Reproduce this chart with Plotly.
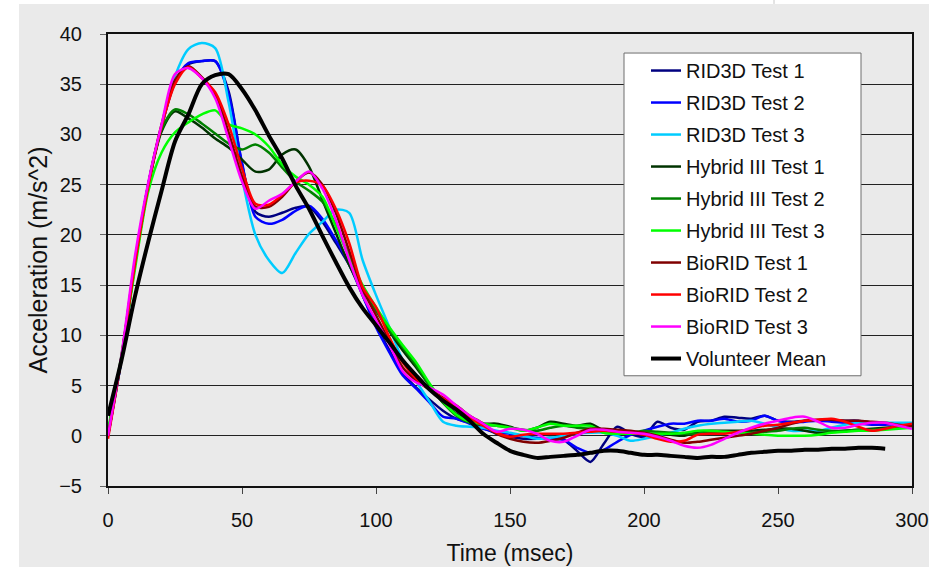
import plotly.graph_objects as go

t = list(range(0, 301, 5))

rid3d_1 = [0.0, 7.6, 17.0, 25.0, 30.8, 35.2, 37.0, 37.3, 37.3, 34.3, 27.0, 22.3, 21.8, 22.2, 22.7, 22.8, 21.3, 19.2, 17.0, 14.0,
           11.0, 8.5, 6.2, 4.8, 3.6, 2.5, 1.7, 1.3, 0.8, 0.2,
           -0.1, -0.3, -0.3, -0.2, -0.4, -1.5, -2.6, -0.8, 0.9, 0.2, -0.1, 1.4, 0.8, 0.6, 1.4, 1.5, 1.9, 1.8, 1.7, 2.0,
           1.5, 1.4, 1.5, 1.5, 1.5, 1.5, 1.5, 1.3, 1.2, 1.1, 1.0]
rid3d_2 = [0.0, 7.6, 17.0, 25.0, 30.8, 35.2, 37.1, 37.3, 37.3, 34.0, 27.2, 21.8, 21.1, 21.5, 22.4, 22.9, 21.6, 19.5, 17.2, 14.0,
           10.8, 8.3, 6.0, 4.7, 3.3, 1.9, 1.7, 1.2, 0.7, 0.4,
           0.2, 0.0, -0.2, -0.3, -0.4, -1.2, -1.7, -1.4, -0.6, 0.1, 0.5, 0.9, 1.2, 1.2, 1.5, 1.5, 1.7, 1.4, 1.5, 2.0,
           1.5, 1.3, 1.4, 1.5, 1.4, 1.3, 1.2, 1.1, 1.1, 1.2, 1.2]
rid3d_3 = [0.2, 7.6, 17.0, 25.0, 30.8, 35.8, 38.5, 39.1, 38.6, 33.2, 25.7, 20.0, 17.5, 16.2, 18.2, 20.1, 21.3, 22.5, 22.2, 17.5,
           14.0, 10.8, 7.5, 5.4, 3.4, 1.4, 1.0, 0.9, 0.8, 0.5,
           0.3, 0.0, -0.3, -0.2, 0.0, 0.2, 0.3, 0.3, 0.0, -0.5, -0.3, 0.0, 0.3, 0.7, 1.0, 1.2, 1.3, 1.4, 1.5, 1.2,
           0.8, 0.5, 0.5, 0.5, 0.8, 1.1, 1.3, 1.3, 1.3, 1.3, 1.3]
hybrid_1 = [0.3, 7.8, 17.0, 24.8, 30.3, 32.3, 31.6, 30.7, 29.6, 28.7, 27.5, 26.3, 26.5, 28.0, 28.5, 26.8, 23.5, 20.2, 17.0, 14.5,
            12.5, 10.4, 8.5, 6.8, 5.0, 3.3, 2.2, 1.5, 1.2, 1.2,
            0.9, 0.5, 0.8, 1.4, 1.2, 1.0, 1.2, 0.5, 0.2, 0.2, 0.2, 0.2, 0.1, 0.0, 0.4, 0.5, 0.5, 0.5, 0.5, 0.6,
            0.7, 0.7, 0.5, 0.3, 0.4, 0.5, 0.6, 0.7, 0.8, 0.9, 1.0]
hybrid_2 = [0.2, 7.8, 17.0, 24.8, 30.5, 32.5, 32.0, 31.1, 30.1, 29.1, 28.5, 29.0, 28.2, 26.7, 25.3, 24.4, 23.3, 21.0, 17.8, 14.8,
            12.5, 10.5, 8.8, 7.0, 5.0, 3.3, 2.0, 1.3, 1.1, 1.0,
            0.8, 0.6, 0.5, 0.8, 1.0, 0.8, 0.7, 0.5, 0.3, 0.3, 0.5, 0.4, 0.3, 0.2, 0.2, 0.3, 0.3, 0.3, 0.3, 0.4,
            0.5, 0.7, 0.8, 0.6, 0.5, 0.5, 0.6, 0.6, 0.7, 0.8, 0.8]
hybrid_3 = [0.5, 8.0, 16.5, 24.3, 28.2, 30.2, 31.2, 32.0, 32.4, 31.0, 30.6, 30.0, 28.8, 27.0, 25.8, 25.0, 23.8, 20.8, 17.8, 15.0,
            12.8, 10.8, 9.0, 7.3, 5.2, 3.4, 2.1, 1.4, 1.2, 1.0,
            0.8, 0.5, 0.8, 1.2, 1.0, 1.0, 1.0, 0.3, 0.2, 0.2, 0.2, 0.2, 0.2, 0.3, 0.5, 0.5, 0.4, 0.3, 0.2, 0.1,
            0.0, 0.0, 0.0, 0.1, 0.3, 0.4, 0.5, 0.5, 0.6, 0.7, 0.8]
biorid_1 = [0.0, 7.8, 17.3, 25.0, 31.0, 35.4, 36.8, 35.7, 34.0, 30.2, 25.8, 22.8, 22.8, 23.8, 25.3, 26.2, 25.0, 22.2, 18.4, 14.6,
            12.0, 9.4, 6.8, 5.5, 4.6, 3.8, 3.0, 2.0, 1.2, 0.2,
            -0.3, -0.6, -0.7, -0.5, -0.2, 0.3, 0.7, 0.7, 0.6, 0.5, 0.3, 0.0, -0.4, -0.7, -0.6, -0.4, -0.2, 0.0, 0.2, 0.5,
            0.8, 1.2, 1.5, 1.6, 1.6, 1.5, 1.5, 1.4, 1.3, 1.1, 1.0]
biorid_2 = [-0.3, 7.7, 17.0, 24.8, 30.8, 35.0, 36.7, 35.6, 34.2, 31.0, 26.6, 23.1, 23.0, 24.0, 25.2, 25.4, 24.9, 22.6, 19.2, 14.8,
            12.8, 9.8, 7.3, 5.7, 4.6, 3.7, 2.8, 1.8, 1.0, 0.3,
            -0.1, 0.1, 0.2, 0.2, 0.2, 0.3, 0.4, 0.5, 0.4, 0.3, 0.1, -0.3, -0.6, -0.5, 0.1, 0.2, 0.2, 0.4, 0.7, 1.0,
            1.1, 1.3, 1.5, 1.6, 1.7, 1.4, 0.9, 0.5, 0.7, 1.0, 1.2]
biorid_3 = [0.0, 8.0, 17.8, 25.2, 31.0, 36.0, 36.6, 35.6, 33.6, 29.5, 25.3, 22.6, 23.4, 24.1, 25.3, 26.3, 24.6, 21.5, 17.5, 14.0,
            11.5, 9.1, 6.4, 5.3, 4.8, 4.1, 3.0, 2.0, 1.2, 0.4,
            0.7, 0.6, 0.2, -0.5, -0.6, 0.0, 0.6, 0.6, 0.4, 0.3, 0.2, -0.1, -0.5, -1.0, -1.2, -0.9, -0.3, 0.3, 0.8, 1.2,
            1.5, 1.8, 1.9, 1.4, 0.8, 0.8, 1.1, 1.3, 1.3, 1.0, 0.7]
volunteer_mean = [2.0, 7.5, 13.8, 19.3, 24.4, 29.3, 32.0, 35.0, 35.9, 36.0, 34.5, 32.4, 29.9, 27.6, 24.9, 22.6, 19.9, 17.3, 14.8, 12.7,
                  11.0, 9.3, 7.5, 6.0, 4.6, 3.5, 2.6, 1.5, 0.2, -0.7,
                  -1.5, -1.9, -2.2, -2.1, -2.0, -1.9, -1.7, -1.5, -1.5, -1.7, -1.9, -1.9, -2.0, -2.1, -2.2, -2.1, -2.1, -1.9, -1.7, -1.6,
                  -1.5, -1.5, -1.4, -1.4, -1.3, -1.3, -1.2, -1.2, -1.3, None, None]

names = ["RID3D Test 1", "RID3D Test 2", "RID3D Test 3", "Hybrid III Test 1", "Hybrid III Test 2",
         "Hybrid III Test 3", "BioRID Test 1", "BioRID Test 2", "BioRID Test 3", "Volunteer Mean"]
series = [rid3d_1, rid3d_2, rid3d_3, hybrid_1, hybrid_2, hybrid_3, biorid_1, biorid_2, biorid_3, volunteer_mean]
colors = ["#000080", "#0000FF", "#00CCFF", "#003300", "#008000", "#00FF00", "#800000", "#FF0000", "#FF00FF", "#000000"]
widths = [2.5] * 9 + [4]

y_ticks = list(range(-5, 41, 5))
x_ticks = list(range(0, 301, 50))

fig = go.Figure()
for i, (n, s, c, w) in enumerate(zip(names, series, colors, widths)):
    fig.add_trace(go.Scatter(x=t, y=s, name=n, mode="lines", legendgroup=str(i),
                             line=dict(color=c, width=w, shape="spline", smoothing=0.8)))

# target pixel geometry, compensated for the small capture scale
S = 1.0 / 0.987
W, H = round(929 * S), round(567 * S)
L, T = 107 * S, 34 * S
R = W - 911 * S
B = H - 485 * S
pw, ph = W - L - R, H - T - B

def px2x(p):
    return (p * S - L) / pw

def py2y(p):
    return (H - B - p * S) / ph

fig.add_shape(type="rect", xref="paper", yref="paper", x0=px2x(18), x1=px2x(945), y0=py2y(585), y1=py2y(4),
              fillcolor="#eaeaea", line=dict(width=0), layer="below")
fig.add_shape(type="line", xref="paper", yref="paper", x0=px2x(773), x1=px2x(773), y0=py2y(4), y1=py2y(-2),
              line=dict(color="#c8c8c8", width=1), layer="below")
fig.add_shape(type="rect", xref="paper", yref="paper", x0=px2x(623), x1=px2x(860), y0=py2y(375), y1=py2y(53),
              fillcolor="white", line=dict(color="#6e6e6e", width=1), layer="above")

font_family = "Liberation Sans, Arial, sans-serif"
fig.update_layout(
    width=W, height=H,
    margin=dict(l=L, r=R, t=T, b=B),
    paper_bgcolor="white",
    plot_bgcolor="#eaeaea",
    font=dict(family=font_family, size=20, color="#111111"),
    showlegend=True,
    legend=dict(x=px2x(645), y=py2y(51), xanchor="left", yanchor="top",
                bgcolor="rgba(0,0,0,0)", borderwidth=0, font=dict(size=20, color="#111111"),
                traceorder="grouped", tracegroupgap=3),
    xaxis=dict(range=[0, 300], tickvals=x_ticks, ticks="outside", ticklen=6, tickcolor="#444",
               showgrid=False, zeroline=False, showline=True, linecolor="#111", linewidth=2, mirror=True,
               ticklabelstandoff=9,
               title=dict(text="Time (msec)", standoff=15, font=dict(size=23))),
    yaxis=dict(range=[-5, 40], tickvals=y_ticks, ticks="outside", ticklen=6, tickcolor="#666",
               showgrid=True, gridcolor="#222", gridwidth=1, zeroline=False,
               showline=True, linecolor="#111", linewidth=2, mirror=True,
               ticklabelstandoff=14,
               title=dict(text="Acceleration (m/s^2)", standoff=4, font=dict(size=25))),
)

fig.write_html("out.html", config={"displayModeBar": False},
               post_script="document.body.style.margin='0';document.body.style.overflow='hidden';")
